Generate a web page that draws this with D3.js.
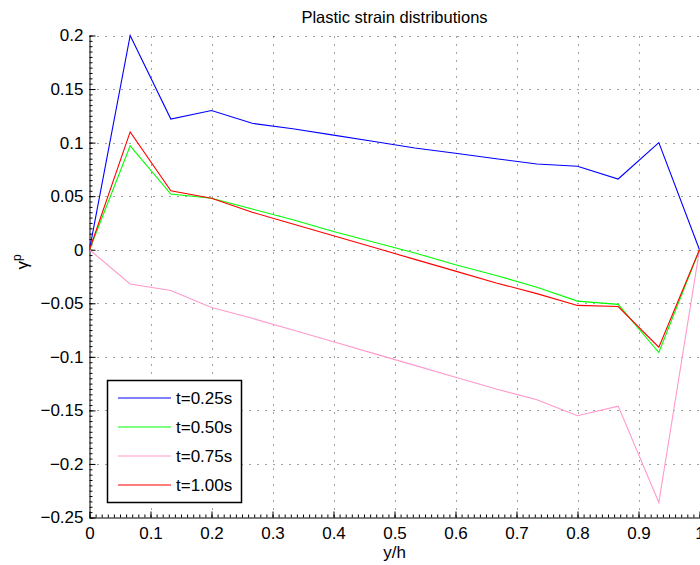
<!DOCTYPE html>
<html>
<head>
<meta charset="utf-8">
<script src="https://cdn.jsdelivr.net/npm/d3@7/dist/d3.min.js"></script>
<style>
html,body{margin:0;padding:0;background:#fff;}
svg{display:block;font-family:"Liberation Sans",Arial,Helvetica,sans-serif;}
</style>
</head>
<body>
<svg id="chart" width="700" height="565"></svg>
<script>
// ---- data ----
const xValues = [0, 1/15, 2/15, 3/15, 4/15, 5/15, 6/15, 7/15, 8/15, 9/15, 10/15, 11/15, 12/15, 13/15, 14/15, 1];
const seriesNames = ["t=0.25s", "t=0.50s", "t=0.75s", "t=1.00s"];
const seriesColors = ["#0000ff", "#00ff00", "#ff99cc", "#ff0000"];
const s025 = [0, 0.200, 0.122, 0.130, 0.118, 0.113, 0.107, 0.101, 0.095, 0.090, 0.085, 0.080, 0.078, 0.066, 0.100, 0];
const s050 = [0, 0.097, 0.052, 0.048, 0.038, 0.028, 0.017, 0.007, -0.003, -0.014, -0.024, -0.035, -0.048, -0.051, -0.096, 0];
const s075 = [0, -0.032, -0.038, -0.054, -0.064, -0.075, -0.086, -0.097, -0.108, -0.119, -0.130, -0.140, -0.155, -0.146, -0.236, 0];
const s100 = [0, 0.110, 0.055, 0.048, 0.035, 0.024, 0.013, 0.002, -0.009, -0.020, -0.031, -0.041, -0.052, -0.053, -0.091, 0];
const seriesValues = [s025, s050, s075, s100];
const xTicks = [0, 0.1, 0.2, 0.3, 0.4, 0.5, 0.6, 0.7, 0.8, 0.9, 1];
const xTickLabels = ["0", "0.1", "0.2", "0.3", "0.4", "0.5", "0.6", "0.7", "0.8", "0.9", "1"];
const yTicks = [-0.25, -0.2, -0.15, -0.1, -0.05, 0, 0.05, 0.1, 0.15, 0.2];
const yTickLabels = ["\u22120.25", "\u22120.2", "\u22120.15", "\u22120.1", "\u22120.05", "0", "0.05", "0.1", "0.15", "0.2"];
const titleText = "Plastic strain distributions";
const xLabelText = "y/h";

// ---- layout ----
const svg = d3.select("#chart");
const L = 89.5, R = 699.5, T = 35.5, B = 517.5;
const x = d3.scaleLinear().domain([0, 1]).range([L, R]);
const y = d3.scaleLinear().domain([-0.25, 0.2]).range([B, T]);
const fs = 17;

// grid
const grid = svg.append("g").attr("stroke", "#444").attr("stroke-width", 1).attr("stroke-dasharray", "1,7");
grid.selectAll(".gx").data(xTicks.slice(1)).enter().append("line")
  .attr("x1", d => Math.round(x(d)) + 0.5).attr("x2", d => Math.round(x(d)) + 0.5)
  .attr("y1", B).attr("y2", T);
grid.selectAll(".gy").data(yTicks.slice(1)).enter().append("line")
  .attr("y1", d => Math.round(y(d)) + 0.5).attr("y2", d => Math.round(y(d)) + 0.5)
  .attr("x1", L).attr("x2", R);

// minor ticks
const xMinor = d3.range(0, 101).map(i => i / 100);
const yMinor = d3.range(-50, 41).map(i => i / 200);
svg.append("g").attr("transform", `translate(0,${B})`)
  .call(d3.axisBottom(x).tickValues(xMinor).tickSizeInner(-3).tickSizeOuter(0).tickFormat(""))
  .call(g => g.select(".domain").remove());
svg.append("g").attr("transform", `translate(${L},0)`)
  .call(d3.axisLeft(y).tickValues(yMinor).tickSizeInner(-3).tickSizeOuter(0).tickFormat(""))
  .call(g => g.select(".domain").remove());

// major axes
const xAxis = svg.append("g").attr("transform", `translate(0,${B})`)
  .call(d3.axisBottom(x).tickValues(xTicks).tickSizeInner(-6).tickSizeOuter(0).tickPadding(9)
    .tickFormat((d, i) => xTickLabels[i]));
const yAxis = svg.append("g").attr("transform", `translate(${L},0)`)
  .call(d3.axisLeft(y).tickValues(yTicks).tickSizeInner(-6).tickSizeOuter(0).tickPadding(6)
    .tickFormat((d, i) => yTickLabels[i]));
[xAxis, yAxis].forEach(g => {
  g.selectAll("text").attr("font-size", fs).attr("fill", "#000").attr("font-family", "Liberation Sans, Arial, sans-serif");
  g.selectAll("line").attr("stroke", "#000");
  g.select(".domain").attr("stroke", "#000");
});

// lines
const line = d3.line().x((d, i) => x(xValues[i])).y(d => y(d));
seriesValues.forEach((vals, k) => {
  svg.append("path").datum(vals).attr("d", line)
    .attr("fill", "none").attr("stroke", seriesColors[k]).attr("stroke-width", 1.1)
    .attr("stroke-linejoin", "miter");
});

// title & labels
svg.append("text").attr("x", (L + R) / 2).attr("y", 23).attr("text-anchor", "middle")
  .attr("font-size", 16.5).text(titleText);
svg.append("text").attr("x", (L + R) / 2).attr("y", 558).attr("text-anchor", "middle")
  .attr("font-size", fs).text(xLabelText);
const yl = svg.append("text").attr("transform", `translate(28,${262}) rotate(-90)`)
  .attr("text-anchor", "middle").attr("font-size", fs);
yl.append("tspan").text("\u03b3");
yl.append("tspan").attr("dy", -7).attr("font-size", 12).text("p");

// legend
const lg = svg.append("g");
lg.append("rect").attr("x", 107.5).attr("y", 380.5).attr("width", 134).attr("height", 122)
  .attr("fill", "#fff").attr("stroke", "#000").attr("stroke-width", 1.5);
seriesNames.forEach((name, k) => {
  const yy = 398 + k * 29;
  lg.append("line").attr("x1", 118).attr("x2", 171).attr("y1", yy).attr("y2", yy)
    .attr("stroke", seriesColors[k]).attr("stroke-width", 1.1);
  lg.append("text").attr("x", 176).attr("y", yy + 6).attr("font-size", fs).text(name);
});
</script>
</body>
</html>
